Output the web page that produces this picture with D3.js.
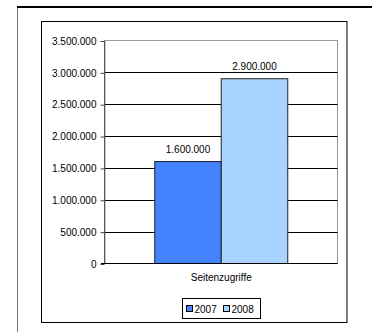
<html lang="de">
  <head>
    <meta charset="utf-8">
    <title>Seitenzugriffe</title>
    <script src="https://d3js.org/d3.v7.min.js"></script>
    <style>
      body { margin: 0; background: #fff; }
      text { font-family: "Liberation Sans", Arial, sans-serif; font-size: 10px; fill: #000; }
    </style>
  </head>
  <body>
    <script type="text/javascript">
      var w = 372;
      var h = 332;
      var categories = ["Seitenzugriffe"];
      var series = ["2007", "2008"];
      var values2007 = [1600000];
      var values2008 = [2900000];
      var yTicks = [0, 500000, 1000000, 1500000, 2000000, 2500000, 3000000, 3500000];
      var colors = ["#4482ff", "#a8d4ff"];

      var plot = {left: 105, right: 337.5, top: 40.5, bottom: 263.5};
      var fmt = function(v) { return d3.format(",")(v).replace(/,/g, "."); };

      var svg = d3.select("body")
          .append("svg")
          .attr("width", w)
          .attr("height", h);

      // page decoration
      svg.append("line")
          .attr("x1", 17).attr("y1", 7).attr("x2", w).attr("y2", 7)
          .style("stroke", "#000").attr("stroke-width", 2);
      svg.append("line")
          .attr("x1", 17.5).attr("y1", 8).attr("x2", 17.5).attr("y2", h)
          .style("stroke", "#777").attr("stroke-width", 1);
      svg.append("rect")
          .attr("x", 41.5).attr("y", 21.5)
          .attr("width", 305.5).attr("height", 301)
          .attr("fill", "none").style("stroke", "#000");

      var yScale = d3.scaleLinear()
          .domain([0, 3500000])
          .range([plot.bottom, plot.top]);
      var x0 = d3.scaleBand()
          .domain(categories)
          .range([plot.left, plot.right])
          .paddingOuter(0.374);
      var x1 = d3.scaleBand()
          .domain(series)
          .range([0, x0.bandwidth()]);

      // plot area border
      svg.append("rect")
          .attr("x", plot.left).attr("y", plot.top)
          .attr("width", plot.right - plot.left).attr("height", plot.bottom - plot.top)
          .attr("fill", "#fff").style("stroke", "#999");

      // gridlines
      svg.selectAll("line.grid")
          .data(yTicks.slice(1, -1))
          .enter()
          .append("line")
          .attr("class", "grid")
          .attr("x1", plot.left)
          .attr("x2", plot.right)
          .attr("y1", d => Math.round(yScale(d)) + 0.5)
          .attr("y2", d => Math.round(yScale(d)) + 0.5)
          .style("stroke", "#000");

      var yAxis = d3.axisLeft(yScale)
          .tickValues(yTicks)
          .tickFormat(fmt)
          .tickSize(4)
          .tickPadding(4);
      var gy = svg.append("g")
          .attr("transform", "translate(" + (plot.left - 0.5) + ",0.5)")
          .call(yAxis);
      gy.select(".domain").remove();
      gy.selectAll("text").style("font-size", "10px").style("font-family", "'Liberation Sans', Arial, sans-serif");
      gy.selectAll("line").style("stroke", "#444");
      svg.append("line")
          .attr("x1", plot.left - 0.5).attr("x2", plot.left - 0.5)
          .attr("y1", plot.top).attr("y2", plot.bottom)
          .style("stroke", "#555");

      var data = [{cat: categories[0], s: series[0], v: values2007[0]},
                  {cat: categories[0], s: series[1], v: values2008[0]}];

      svg.selectAll("rect.bar")
          .data(data)
          .enter()
          .append("rect")
          .attr("class", "bar")
          .attr("x", d => x0(d.cat) + x1(d.s))
          .attr("y", d => yScale(d.v))
          .attr("width", x1.bandwidth())
          .attr("height", d => plot.bottom - yScale(d.v))
          .attr("fill", (d, i) => colors[i])
          .style("stroke", "#222");

      svg.selectAll("text.lbl")
          .data(data)
          .enter()
          .append("text")
          .attr("class", "lbl")
          .attr("x", d => x0(d.cat) + x1(d.s) + x1.bandwidth() / 2)
          .attr("y", d => yScale(d.v) - 9)
          .attr("text-anchor", "middle")
          .text(d => fmt(d.v));

      // baseline
      svg.append("line")
          .attr("x1", plot.left - 4).attr("x2", plot.right)
          .attr("y1", plot.bottom).attr("y2", plot.bottom)
          .style("stroke", "#000");

      svg.selectAll("text.cat")
          .data(categories)
          .enter()
          .append("text")
          .attr("class", "cat")
          .attr("x", d => x0(d) + x0.bandwidth() / 2)
          .attr("y", 281)
          .attr("text-anchor", "middle")
          .text(d => d);

      // legend
      var lg = svg.append("g").attr("transform", "translate(182.5,298.5)");
      lg.append("rect")
          .attr("width", 78).attr("height", 20)
          .attr("fill", "#fff").style("stroke", "#000");
      var items = lg.selectAll("g.item")
          .data(series)
          .enter()
          .append("g")
          .attr("class", "item")
          .attr("transform", (d, i) => "translate(" + (4 + i * 37) + ",0)");
      items.append("rect")
          .attr("x", 0).attr("y", 7)
          .attr("width", 6).attr("height", 6)
          .attr("fill", (d, i) => colors[i])
          .style("stroke", "#000");
      items.append("text")
          .attr("x", 8).attr("y", 14)
          .text(d => d);
    </script>
  </body>
</html>
